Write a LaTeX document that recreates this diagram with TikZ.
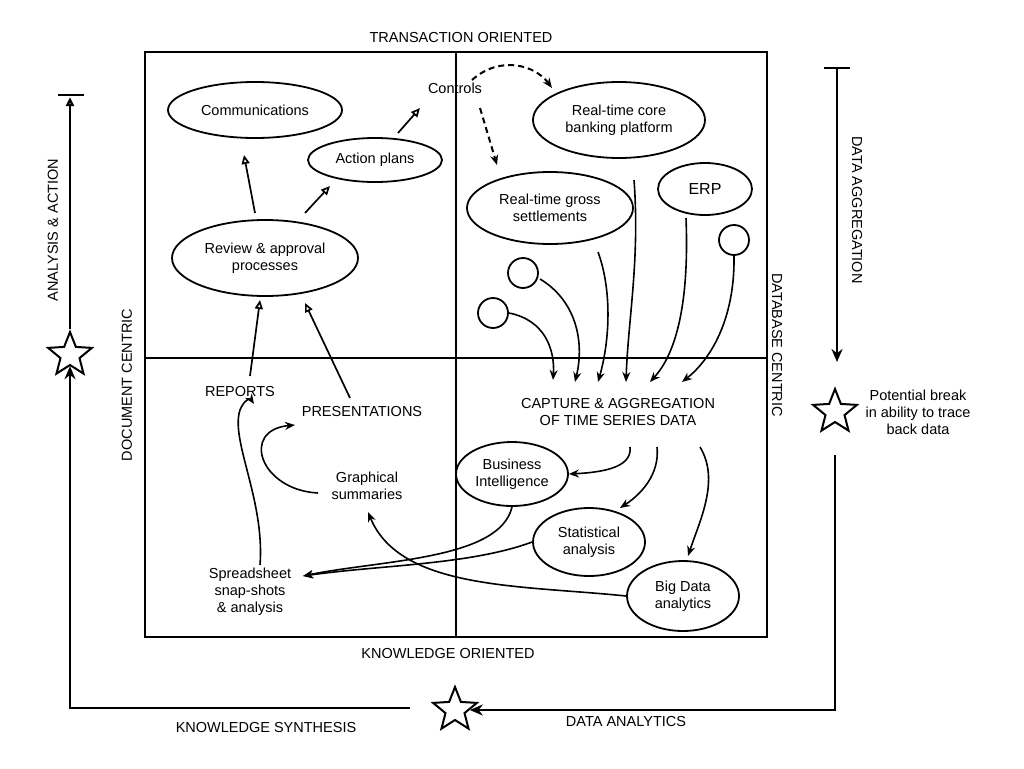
\documentclass[tikz,border=0pt]{standalone}
\usepackage{fontspec}
\setmainfont{Liberation Sans}
\usetikzlibrary{arrows.meta,shapes.geometric}
\begin{document}
\begin{tikzpicture}[x=1pt,y=-1pt,
  every node/.style={font=\fontsize{14.5}{17}\selectfont,align=center},
  ell/.style={draw,ellipse,line width=1.8pt,inner sep=0pt},
  oa/.style={-{Triangle[open,length=9pt,width=8pt]},line width=1.7pt},
  sa/.style={-{Stealth[length=10pt,width=8pt]},line width=1.6pt},
  da/.style={sa,dashed,dash pattern=on 6pt off 4pt,line width=2pt},
  big/.style={line width=2.4pt},
  st/.style={draw,star,star points=5,star point ratio=2.3,minimum size=46pt,line width=2pt,inner sep=0pt}]
\useasboundingbox (0,0) rectangle (1024,768);
\draw[line width=1.8pt] (145,52) rectangle (767,637);
\draw[line width=1.8pt] (456,52)--(456,637) (145,358)--(767,358);
\node at (461,38) {TRANSACTION ORIENTED};
\node at (448,653) {KNOWLEDGE ORIENTED};
\node[rotate=90] at (127,385) {DOCUMENT CENTRIC};
\node[rotate=-90] at (777,345) {DATABASE CENTRIC};
\node[rotate=90] at (53,230) {ANALYSIS \& ACTION};
\node[rotate=-90] at (857,210) {DATA AGGREGATION};
\node (pb) at (918,412) {Potential break\\in ability to trace\\back data};
\node at (266,727) {KNOWLEDGE SYNTHESIS};
\node at (626,721) {DATA ANALYTICS};
% nodes
\node[ell,minimum width=174pt,minimum height=56pt] (com) at (255,110) {Communications};
\node[ell,minimum width=134pt,minimum height=44pt] (ap) at (375,160) {Action plans};
\node (ctl) at (455,88) {Controls};
\node[ell,minimum width=186pt,minimum height=76pt] (rev) at (265,258) {Review \& approval\\processes};
\node[ell,minimum width=172pt,minimum height=76pt] (core) at (619,120) {Real-time core\\banking platform};
\node[ell,minimum width=166pt,minimum height=72pt] (gross) at (550,208) {Real-time gross\\settlements};
\node[ell,minimum width=94pt,minimum height=52pt,font=\fontsize{16}{18}\selectfont] (erp) at (705,189) {ERP};
\node[ell,minimum size=30pt] (c1) at (734,240) {};
\node[ell,minimum size=30pt] (c2) at (523,273) {};
\node[ell,minimum size=30pt] (c3) at (493,313) {};
\node (rep) at (240,392) {REPORTS};
\node (pres) at (362,412) {PRESENTATIONS};
\node (cap) at (618,412) {CAPTURE \& AGGREGATION\\OF TIME SERIES DATA};
\node[ell,minimum width=112pt,minimum height=64pt] (bi) at (512,474) {Business\\Intelligence};
\node[ell,minimum width=112pt,minimum height=68pt] (sa) at (589,542) {Statistical\\analysis};
\node[ell,minimum width=112pt,minimum height=70pt] (bd) at (683,596) {Big Data\\analytics};
\node (gs) at (367,486) {Graphical\\summaries};
\node (ss) at (250,592) {Spreadsheet\\snap-shots\\\& analysis};
\node[st] (s1) at (70,355) {};
\node[st] (s2) at (835,412) {};
\node[st] (s3) at (455,710) {};
% outer arrows
\draw[big] (58,95)--(84,95);
\draw[-{Triangle[open,length=9pt,width=8pt]},big] (s1.north)--(70,97);
\coordinate (t2) at (837,68);
\draw[big] (824,68)--(850,68);
\draw[-{Stealth[length=13pt,width=11pt]},big] (t2)--(837,362);
\coordinate (b1) at (835,455);
\coordinate (b2) at (835,710);
\draw[-{Stealth[length=13pt,width=11pt]},big] (b1)--(b2)--(s3.east);
\coordinate (b3) at (70,708);
\draw[-{Stealth[length=13pt,width=11pt]},big] (410,708)--(b3)--(s1.south);
% top left arrows
\draw[oa] (255,213)--(244,155);
\draw[oa] (305,213)--(330,186);
\draw[oa] (398,133)--(420,108);
\draw[oa] (250,376)--(260,300);
\draw[oa] (350,398)--(305,303);
\draw[da] (472,80) .. controls (500,55) and (535,65) .. (552,88);
\draw[da] (480,108)--(497,165);
% into capture
\draw[sa] (634,180) .. controls (640,260) and (628,320) .. (626,382);
\draw[sa] (686,218) .. controls (690,320) and (670,360) .. (650,382);
\draw[sa] (c1.south) .. controls (735,320) and (710,360) .. (682,382);
\draw[sa] (598,252) .. controls (612,290) and (610,340) .. (598,382);
\draw[sa] (540,279) .. controls (575,300) and (585,340) .. (575,382);
\draw[sa] (c3.east) .. controls (545,320) and (555,350) .. (553,380);
% out of capture
\draw[sa] (630,447) .. controls (632,465) and (610,472) .. (bi.east);
\draw[sa] (657,447) .. controls (660,475) and (640,495) .. (620,508);
\draw[sa] (700,447) .. controls (720,480) and (700,520) .. (688,556);
% bottom left
\draw[sa] (260,565) .. controls (265,500) and (230,440) .. (240,410) .. controls (244,400) and (250,398) .. (254,404);
\draw[sa] (318,493) .. controls (260,490) and (240,430) .. (295,425);
\draw[sa] (bi.south) .. controls (500,560) and (380,560) .. (303,576);
\draw[sa] (sa.west) .. controls (470,565) and (380,565) .. (303,576);
\draw[sa] (bd.west) .. controls (520,585) and (400,590) .. (368,512);
\end{tikzpicture}
\end{document}
